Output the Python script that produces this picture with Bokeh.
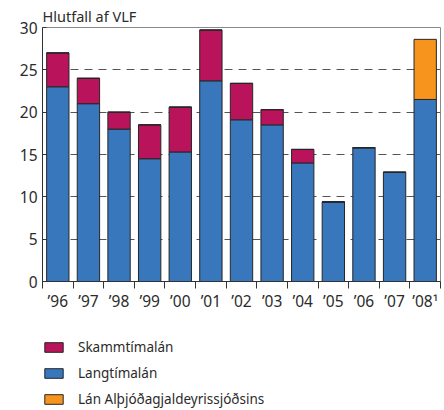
from bokeh.plotting import figure
from bokeh.layouts import column
from bokeh.models import (ColumnDataSource, FixedTicker, Legend, LegendItem, Range1d)
from bokeh.embed import file_html
from bokeh.resources import INLINE

years = ["’96", "’97", "’98", "’99", "’00", "’01", "’02", "’03", "’04", "’05", "’06", "’07", "’08¹"]
langtima = [23.0, 21.0, 18.0, 14.5, 15.3, 23.7, 19.1, 18.5, 14.0, 9.4, 15.8, 12.9, 21.5]
skammtima = [4.0, 3.0, 2.0, 4.0, 5.3, 6.0, 4.3, 1.8, 1.6, 0.0, 0.0, 0.0, 0.0]
ags = [0, 0, 0, 0, 0, 0, 0, 0, 0, 0, 0, 0, 7.1]
y_ticks = [0, 5, 10, 15, 20, 25, 30]
labels = ["Skammtímalán", "Langtímalán", "Lán Alþjóðagjaldeyrissjóðsins"]
colors = {"lang": "#3877bc", "skamm": "#b8135b", "ags": "#f7941d"}

FONT = "Noto Sans"
TXT = "#2b2b2b"
EDGE = "#262626"

x = [i + 0.5 for i in range(len(years))]
src = ColumnDataSource(dict(x=x, lang=langtima, skamm=skammtima, ags=ags))

p = figure(width=444, height=320, output_backend="svg", toolbar_location=None,
           x_range=Range1d(0, len(years)), y_range=Range1d(0, 30),
           min_border_left=42, min_border_right=4, min_border_top=27, min_border_bottom=39)
p.title.text = "Hlutfall af VLF"
p.title.align = "left"
p.title.text_font = FONT
p.title.text_font_size = "14.5px"
p.title.text_font_style = "normal"
p.title.text_color = TXT
p.title.standoff = 3

rs = p.vbar_stack(["lang", "skamm", "ags"], x="x", width=0.73, source=src,
                  color=[colors["lang"], colors["skamm"], colors["ags"]],
                  line_color=EDGE, line_width=1)

p.outline_line_color = "#8a8a8a"
p.outline_line_width = 1

ya = p.yaxis[0]
ya.ticker = FixedTicker(ticks=y_ticks)
ya.major_tick_in = 4
ya.major_tick_out = 0
ya.minor_tick_line_color = None
ya.axis_line_color = "#333333"
ya.major_tick_line_color = "#333333"
ya.major_label_text_font = FONT
ya.major_label_text_font_size = "15.5px"
ya.major_label_text_color = TXT
ya.major_label_standoff = 5

xa = p.xaxis[0]
xa.ticker = FixedTicker(ticks=x, minor_ticks=list(range(len(years) + 1)))
xa.major_label_overrides = {xv: yr for xv, yr in zip(x, years)}
xa.major_tick_line_color = None
xa.major_tick_in = 0
xa.major_tick_out = 0
xa.minor_tick_in = 0
xa.minor_tick_out = 7
xa.minor_tick_line_color = "#333333"
xa.axis_line_color = "#333333"
xa.major_label_text_font = FONT
xa.major_label_text_font_size = "15.5px"
xa.major_label_text_color = TXT
xa.major_label_standoff = 1

p.xgrid.grid_line_color = None
p.ygrid.ticker = FixedTicker(ticks=y_ticks[1:-1])
p.ygrid.grid_line_color = "#555555"
p.ygrid.grid_line_dash = "8 6"
p.ygrid.grid_line_width = 1.2

# legend panel (dummy renderers kept below the visible range; only their swatches show)
lf = figure(width=444, height=90, output_backend="svg", toolbar_location=None,
            x_range=Range1d(0, 1), y_range=Range1d(0, 1),
            x_axis_type=None, y_axis_type=None,
            min_border_left=42, min_border_right=0, min_border_top=18, min_border_bottom=0)
lf.outline_line_color = None
lf.xgrid.grid_line_color = None
lf.ygrid.grid_line_color = None
dummy = ColumnDataSource(dict(x=[0.5], top=[-5], bottom=[-6]))
r_sk = lf.vbar(x="x", top="top", bottom="bottom", width=0.1, source=dummy,
               color=colors["skamm"], line_color=EDGE)
r_la = lf.vbar(x="x", top="top", bottom="bottom", width=0.1, source=dummy,
               color=colors["lang"], line_color=EDGE)
r_ag = lf.vbar(x="x", top="top", bottom="bottom", width=0.1, source=dummy,
               color=colors["ags"], line_color=EDGE)

legend = Legend(items=[LegendItem(label=labels[0], renderers=[r_sk], index=0),
                       LegendItem(label=labels[1], renderers=[r_la], index=0),
                       LegendItem(label=labels[2], renderers=[r_ag], index=0)],
                location="top_left", orientation="vertical",
                glyph_width=23, glyph_height=12, label_height=12,
                label_standoff=13, spacing=8, padding=0, margin=0,
                border_line_color=None, background_fill_alpha=0,
                label_text_font=FONT, label_text_font_size="13.5px",
                label_text_color=TXT)
lf.add_layout(legend, "center")

layout = column(p, lf, spacing=0)
open("out.html", "w").write(file_html(layout, INLINE))
